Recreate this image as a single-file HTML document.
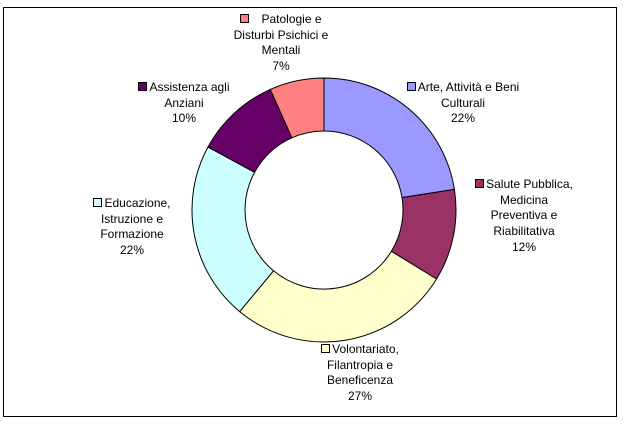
<!DOCTYPE html>
<html><head><meta charset="utf-8"><style>
html,body{margin:0;padding:0;background:#fff;}
body{width:627px;height:424px;position:relative;overflow:hidden;font-family:"Liberation Sans",Arial,sans-serif;font-size:12px;color:#000;}
.frame{position:absolute;left:3px;top:7px;width:612px;height:408px;border:1px solid #000;}
.lbl{position:absolute;text-align:center;line-height:15.7px;white-space:nowrap;}
.sq{display:inline-block;width:7px;height:7px;border:1px solid #000;margin-right:2px;vertical-align:0px;}
svg{position:absolute;left:0;top:0;}
</style></head><body>
<div class="frame"></div>
<svg width="627" height="424" viewBox="0 0 627 424">
<g stroke="#000" stroke-width="1">
<path d="M324,78 A132,132 0 0 1 454.4,189.4 L402.0,197.6 A79,79 0 0 0 324,131 Z" fill="#9999FF"/>
<path d="M454.4,189.4 A132,132 0 0 1 436.5,279.0 L391.4,251.3 A79,79 0 0 0 402.0,197.6 Z" fill="#993366"/>
<path d="M436.5,279.0 A132,132 0 0 1 239.7,311.6 L273.5,270.8 A79,79 0 0 0 391.4,251.3 Z" fill="#FFFFCC"/>
<path d="M239.7,311.6 A132,132 0 0 1 208.0,147.0 L254.6,172.3 A79,79 0 0 0 273.5,270.8 Z" fill="#CCFFFF"/>
<path d="M208.0,147.0 A132,132 0 0 1 270.3,89.4 L291.9,137.8 A79,79 0 0 0 254.6,172.3 Z" fill="#660066"/>
<path d="M270.3,89.4 A132,132 0 0 1 324,78 L324,131 A79,79 0 0 0 291.9,137.8 Z" fill="#FF8080"/>
</g>
</svg>
<div class="lbl" style="left:201px;top:12px;width:160px;"><span class="sq" style="background:#FF8080"></span>&nbsp;&nbsp;&nbsp;Patologie e<br>Disturbi Psichici e<br>Mentali<br>7%</div>
<div class="lbl" style="left:104px;top:80px;width:160px;"><span class="sq" style="background:#660066"></span>Assistenza agli<br>Anziani<br>10%</div>
<div class="lbl" style="left:383px;top:80px;width:160px;"><span class="sq" style="background:#9999FF"></span>Arte, Attività e Beni<br>Culturali<br>22%</div>
<div class="lbl" style="left:444px;top:177px;width:160px;"><span class="sq" style="background:#993366"></span>Salute Pubblica,<br>Medicina<br>Preventiva e<br>Riabilitativa<br>12%</div>
<div class="lbl" style="left:52px;top:196px;width:160px;"><span class="sq" style="background:#CCFFFF"></span>Educazione,<br>Istruzione e<br>Formazione<br>22%</div>
<div class="lbl" style="left:280px;top:342px;width:160px;"><span class="sq" style="background:#FFFFCC"></span>Volontariato,<br>Filantropia e<br>Beneficenza<br>27%</div>
</body></html>
